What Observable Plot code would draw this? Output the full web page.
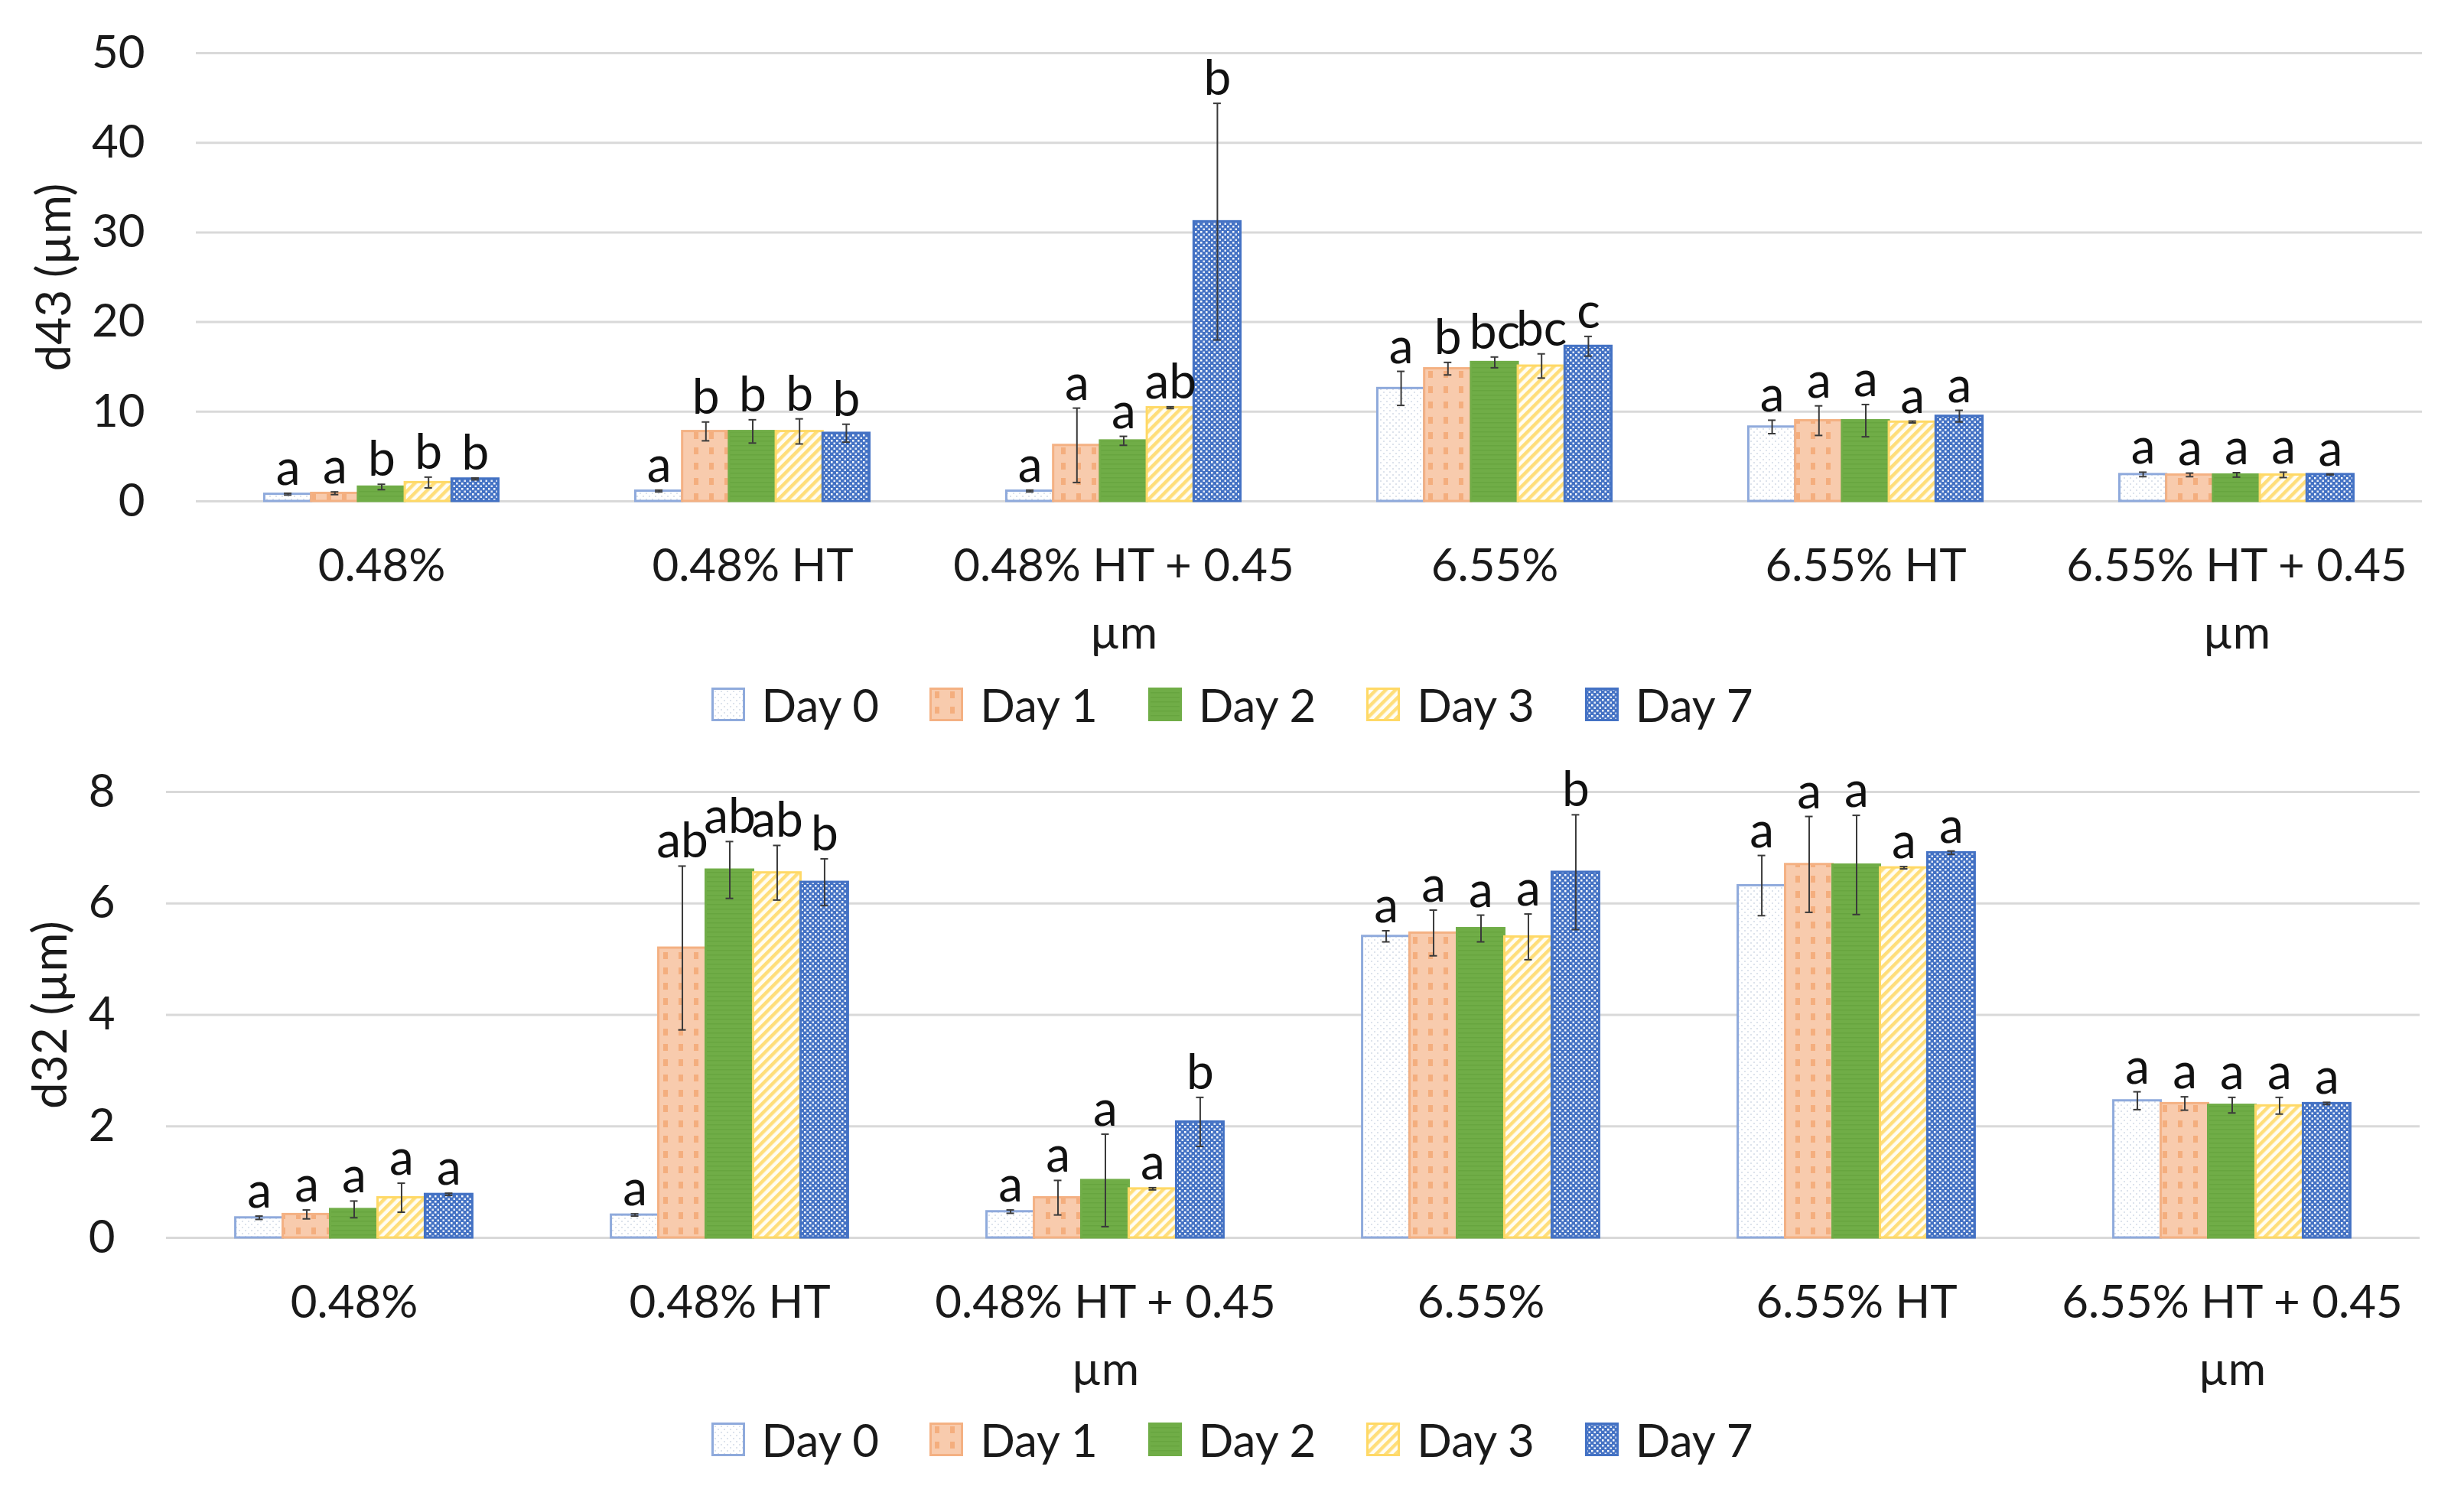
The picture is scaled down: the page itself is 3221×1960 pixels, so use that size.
<!DOCTYPE html>
<html><head><meta charset="utf-8">
<script src="https://cdn.jsdelivr.net/npm/d3@7"></script>
<script src="https://cdn.jsdelivr.net/npm/@observablehq/plot@0.6"></script>
<style>
body{margin:0;background:#fff;}
#page{position:relative;width:3221px;height:1960px;background:#fff;font-family:Lato,"Open Sans",sans-serif;overflow:hidden;}
#page > svg.chart{position:absolute;left:0;}
.legend{position:absolute;left:0;width:3221px;height:60px;display:flex;justify-content:center;align-items:center;gap:66px;font-size:60px;color:#1a1a1a;font-family:Lato,"Open Sans",sans-serif;}
.legend .item{display:flex;align-items:center;gap:22px;}
.legend svg{display:block;}
</style></head><body>
<svg width="0" height="0" style="position:absolute">
<defs>
<pattern id="pat0" patternUnits="userSpaceOnUse" width="8" height="8">
  <rect width="8" height="8" fill="#fff"/>
  <rect x="0" y="0" width="2" height="2" fill="#DDE3EC"/>
  <rect x="4" y="4" width="2" height="2" fill="#DDE3EC"/>
</pattern>
<pattern id="pat1" patternUnits="userSpaceOnUse" width="20" height="20">
  <rect width="20" height="20" fill="#F8CBAD"/>
  <rect x="7" y="5" width="6" height="9" fill="#F4AE7E"/>
</pattern>
<pattern id="pat2" patternUnits="userSpaceOnUse" width="6" height="6">
  <rect width="6" height="6" fill="#70AD47"/>
  <rect y="0" width="6" height="1.5" fill="#67A53F"/>
</pattern>
<pattern id="pat3" patternUnits="userSpaceOnUse" width="9" height="9" patternTransform="rotate(45)">
  <rect width="9" height="9" fill="#FFFDF4"/>
  <rect width="4.5" height="9" fill="#FFDE7A"/>
</pattern>
<pattern id="pat4" patternUnits="userSpaceOnUse" width="7" height="7">
  <rect width="7" height="7" fill="#4472C4"/>
  <rect x="1" y="1" width="2.5" height="2.5" fill="#fff"/>
  <rect x="4.5" y="4.5" width="2.5" height="2.5" fill="#fff" opacity="0.85"/>
</pattern>
</defs>
</svg>
<div id="page"></div>
<script>
// ---- data ----
const groups = ["0.48%", "0.48% HT", "0.48% HT + 0.45\nµm", "6.55%", "6.55% HT", "6.55% HT + 0.45\nµm"];
const days = ["Day 0", "Day 1", "Day 2", "Day 3", "Day 7"];

// d43 (µm): rows = groups, columns = days
const d43Mean = [
  [0.8, 0.9, 1.6, 2.1, 2.5],
  [1.15, 7.8, 7.8, 7.8, 7.6],
  [1.15, 6.25, 6.75, 10.45, 31.2],
  [12.6, 14.8, 15.5, 15.1, 17.3],
  [8.3, 9.0, 9.0, 8.85, 9.5],
  [3.0, 2.95, 2.95, 2.95, 3.0]
];
const d43Err = [
  [0.1, 0.15, 0.3, 0.6, 0.1],
  [0.1, 1.05, 1.3, 1.4, 1.0],
  [0.1, 4.15, 0.5, 0.1, 13.2],
  [1.9, 0.7, 0.6, 1.35, 1.1],
  [0.75, 1.65, 1.8, 0.1, 0.65],
  [0.25, 0.2, 0.25, 0.3, 0.05]
];
const d43Letters = [
  ["a", "a", "b", "b", "b"],
  ["a", "b", "b", "b", "b"],
  ["a", "a", "a", "ab", "b"],
  ["a", "b", "bc", "bc", "c"],
  ["a", "a", "a", "a", "a"],
  ["a", "a", "a", "a", "a"]
];
const d43Ticks = [0, 10, 20, 30, 40, 50];

// d32 (µm)
const d32Mean = [
  [0.36, 0.42, 0.51, 0.72, 0.78],
  [0.41, 5.2, 6.6, 6.55, 6.38],
  [0.47, 0.72, 1.03, 0.88, 2.08],
  [5.41, 5.47, 5.55, 5.40, 6.56],
  [6.32, 6.7, 6.69, 6.64, 6.91],
  [2.46, 2.41, 2.38, 2.37, 2.41]
];
const d32Err = [
  [0.03, 0.08, 0.15, 0.26, 0.02],
  [0.02, 1.47, 0.51, 0.49, 0.42],
  [0.03, 0.31, 0.83, 0.02, 0.44],
  [0.1, 0.41, 0.24, 0.41, 1.03],
  [0.54, 0.86, 0.89, 0.02, 0.03],
  [0.16, 0.12, 0.14, 0.15, 0.02]
];
const d32Letters = [
  ["a", "a", "a", "a", "a"],
  ["a", "ab", "ab", "ab", "b"],
  ["a", "a", "a", "a", "b"],
  ["a", "a", "a", "a", "b"],
  ["a", "a", "a", "a", "a"],
  ["a", "a", "a", "a", "a"]
];
const d32Ticks = [0, 2, 4, 6, 8];

// ---- styles ----
const fills = ["url(#pat0)", "url(#pat1)", "url(#pat2)", "url(#pat3)", "url(#pat4)"];
const strokes = ["#8FAADC", "#F4B183", "#70AD47", "#FFD966", "#4472C4"];
const FONT = "Lato, 'Open Sans', sans-serif";
const FS = 60;

function makeChart({means, errs, letters, ticks, yLabel, marginLeft, marginRight, marginTop, marginBottom, height, xPad, titleX}) {
  const width = 3221;
  const pi = 0.369, po = 0.1845;
  const W = width - marginLeft - marginRight;
  const step = W / (groups.length - pi + 2 * po);
  const bw = step * (1 - pi);
  const sub = bw / days.length;
  const rows = [];
  groups.forEach((g, gi) => days.forEach((d, di) => rows.push({
    group: g, day: d, di, value: means[gi][di], err: errs[gi][di], letter: letters[gi][di]
  })));
  const marks = [Plot.ruleY(ticks, {stroke: "#D9D9D9", strokeWidth: 3})];
  days.forEach((d, di) => {
    const sel = rows.filter(r => r.di === di);
    marks.push(Plot.barY(sel, {
      x: "group", y: "value", fill: fills[di], stroke: strokes[di], strokeWidth: 3,
      insetLeft: di * sub, insetRight: (days.length - 1 - di) * sub
    }));
  });
  days.forEach((d, di) => {
    const sel = rows.filter(r => r.di === di);
    const off = (di - (days.length - 1) / 2) * sub;
    const capL = (di + 0.5) * sub - 5, capR = bw - (di + 0.5) * sub - 5;
    marks.push(Plot.ruleX(sel, {x: "group", y1: r => r.value - r.err, y2: r => r.value + r.err, dx: off, stroke: "#3a3a3a", strokeWidth: 2}));
    marks.push(Plot.tickY(sel, {x: "group", y: r => r.value + r.err, insetLeft: capL, insetRight: capR, stroke: "#3a3a3a", strokeWidth: 2}));
    marks.push(Plot.tickY(sel, {x: "group", y: r => r.value - r.err, insetLeft: capL, insetRight: capR, stroke: "#3a3a3a", strokeWidth: 2}));
    marks.push(Plot.text(sel, {x: "group", y: r => r.value + r.err, text: "letter", dx: off, dy: -11, lineAnchor: "bottom", fontSize: 64, fill: "#111"}));
  });
  marks.push(Plot.axisY({ticks, tickSize: 0, tickPadding: 67, label: null, fontSize: FS}));
  marks.push(Plot.axisX({tickSize: 0, tickPadding: xPad, label: null, fontSize: FS, lineHeight: 1.48}));
  marks.push(Plot.text([yLabel], {frameAnchor: "left", text: d => d, rotate: -90, textAnchor: "middle", lineAnchor: "middle", dx: titleX - marginLeft, fontSize: 62}));
  const svg = Plot.plot({
    width, height, marginLeft, marginRight, marginTop, marginBottom,
    style: {fontFamily: FONT, fontSize: FS + "px", color: "#1a1a1a", background: "transparent", overflow: "visible"},
    x: {domain: groups, paddingInner: pi, paddingOuter: po, round: false, align: 0.5},
    y: {domain: [ticks[0], ticks[ticks.length - 1]]},
    marks
  });
  svg.classList.add("chart");
  return svg;
}

function makeLegend(top) {
  const div = document.createElement("div");
  div.className = "legend";
  div.style.top = top + "px";
  days.forEach((d, di) => {
    const item = document.createElement("div");
    item.className = "item";
    item.innerHTML = `<svg width="44" height="44"><rect x="1.5" y="1.5" width="41" height="41" fill="${fills[di]}" stroke="${strokes[di]}" stroke-width="3"/></svg><span>${d}</span>`;
    div.appendChild(item);
  });
  return div;
}

const page = document.getElementById("page");
const top1 = makeChart({
  means: d43Mean, errs: d43Err, letters: d43Letters, ticks: d43Ticks, yLabel: "d43 (µm)",
  marginLeft: 256, marginRight: 55, marginTop: 69, marginBottom: 225, height: 880, xPad: 41, titleX: 72
});
top1.style.top = "0px";
page.appendChild(top1);
page.appendChild(makeLegend(891));

const bot = makeChart({
  means: d32Mean, errs: d32Err, letters: d32Letters, ticks: d32Ticks, yLabel: "d32 (µm)",
  marginLeft: 217, marginRight: 58, marginTop: 75, marginBottom: 242, height: 900, xPad: 41, titleX: 67
});
bot.style.top = "960px";
page.appendChild(bot);
page.appendChild(makeLegend(1852));
</script>
</body></html>
